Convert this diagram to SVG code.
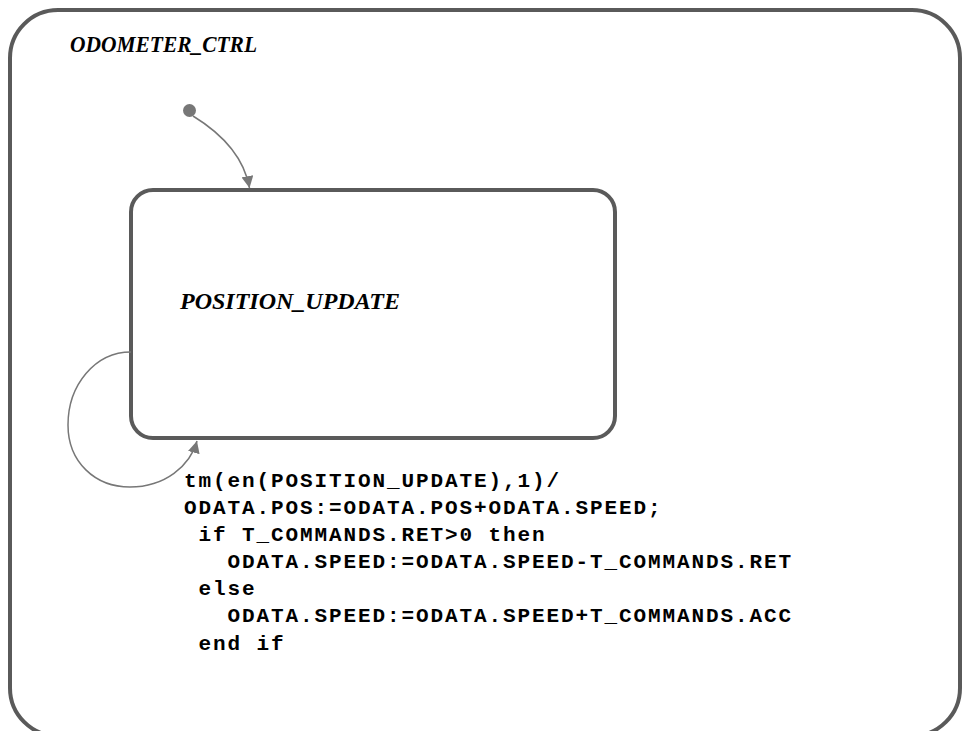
<svg xmlns="http://www.w3.org/2000/svg" width="962" height="731" viewBox="0 0 962 731">
<style>
.box{fill:none;stroke:#5a5a5a;stroke-width:4}
.conn{fill:none;stroke:#777;stroke-width:1.5}
.title{font-family:"Liberation Serif",serif;font-weight:bold;font-style:italic;font-size:24px;fill:#000}
.code{font-family:"Liberation Mono",monospace;font-weight:bold;font-size:21px;letter-spacing:1.9px;fill:#000}
</style>
<defs>
<marker id="arr" viewBox="0 0 12 12" refX="12" refY="6" markerWidth="12" markerHeight="12" markerUnits="userSpaceOnUse" orient="auto">
<path d="M0,0 L12,6 L0,12 Z" fill="#777"/>
</marker>
</defs>
<rect width="962" height="731" fill="#fff"/>
<g id="ODOMETER_CTRL">
<rect class="box" x="10" y="10" width="950" height="726" rx="48" ry="48"/>
<text class="title" x="70" y="52" textLength="187" lengthAdjust="spacingAndGlyphs">ODOMETER_CTRL</text>
</g>
<g id="initial">
<circle cx="189.5" cy="110.5" r="6.5" fill="#777"/>
</g>
<g id="POSITION_UPDATE">
<rect class="box" x="131" y="190" width="484" height="248" rx="22" ry="22"/>
<text class="title" x="180" y="309" textLength="220" lengthAdjust="spacingAndGlyphs">POSITION_UPDATE</text>
</g>
<g id="connectors">
<path class="conn" d="M193,116 Q242,146 249.5,188" marker-end="url(#arr)"/>
<path class="conn" d="M131,352 C95,352 68,385 68,425 C68,462 95,487 130,487 C165,487 190,466 197,441" marker-end="url(#arr)"/>
</g>
<g id="transition-label">
<text class="code" x="184" y="487">tm(en(POSITION_UPDATE),1)/</text>
<text class="code" x="184" y="514">ODATA.POS:=ODATA.POS+ODATA.SPEED;</text>
<text class="code" x="198.5" y="541">if T_COMMANDS.RET&gt;0 then</text>
<text class="code" x="227.5" y="568">ODATA.SPEED:=ODATA.SPEED-T_COMMANDS.RET</text>
<text class="code" x="198.5" y="595">else</text>
<text class="code" x="227.5" y="622">ODATA.SPEED:=ODATA.SPEED+T_COMMANDS.ACC</text>
<text class="code" x="198.5" y="650">end if</text>
</g>
</svg>
